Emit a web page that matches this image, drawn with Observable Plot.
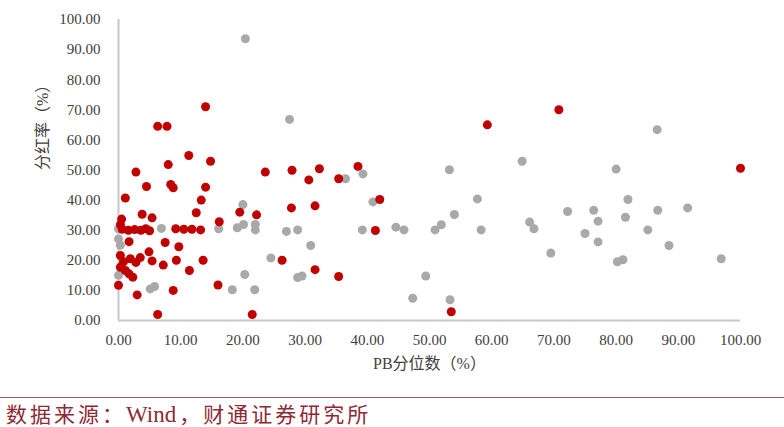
<!DOCTYPE html>
<html>
<head>
<meta charset="utf-8">
<script src="https://cdn.jsdelivr.net/npm/d3@7"></script>
<script src="https://cdn.jsdelivr.net/npm/@observablehq/plot@0.6"></script>
<style>
  html, body { margin: 0; padding: 0; background: #fff; }
  #chart { width: 784px; }
  #source {
    margin-top: 9px;
    border-top: 1.5px solid #b5555a;
    padding: 5px 0 0 6px;
    font-family: "Liberation Serif", "Noto Sans CJK SC", serif;
    font-size: 21px;
    letter-spacing: 3px;
    color: #8e2a35;
    line-height: 24px;
    white-space: nowrap;
  }
  #source .latin { letter-spacing: 0; font-size: 23px; margin-right: 3px; }
</style>
</head>
<body>
<div id="chart"></div>
<div id="source">数据来源：<span class="latin">Wind</span>，财通证券研究所</div>
<script>
const xTicks = [0, 10, 20, 30, 40, 50, 60, 70, 80, 90, 100];
const yTicks = [0, 10, 20, 30, 40, 50, 60, 70, 80, 90, 100];
const xTitle = "PB分位数（%）";
const yTitle = "分红率（%）";

// gray series (PB percentile, dividend payout)
const grayX = [20.4, 27.5, 86.6, 64.9, 53.2, 80.0, 39.3, 36.5, 57.7, 81.9, 40.9, 20.0, 54.0, 72.2, 76.4, 86.7, 91.5, 81.5, 77.1, 66.1, 66.8, 51.9, 50.9, 58.3, 75.0, 85.1, 44.6, 45.9, 39.2, 22.0, 22.0, 27.0, 28.8, 20.1, 19.1, 16.1, 6.9, 0.0, 0.0, 0.3, 0.0, 5.1, 5.8, 18.3, 21.9, 20.3, 30.9, 24.5, 28.8, 29.5, 49.4, 47.3, 53.3, 77.1, 88.5, 69.5, 80.2, 81.1, 96.9];
const grayY = [93.6, 66.8, 63.4, 52.9, 50.1, 50.3, 48.7, 47.1, 40.4, 40.2, 39.4, 38.5, 35.2, 36.2, 36.6, 36.6, 37.4, 34.3, 33.0, 32.7, 30.5, 31.8, 30.1, 30.1, 28.9, 30.1, 31.0, 30.1, 30.1, 31.9, 30.1, 29.6, 30.1, 31.9, 30.8, 30.5, 30.6, 30.5, 27.1, 25.0, 15.0, 10.5, 11.3, 10.2, 10.2, 15.3, 24.9, 20.8, 14.3, 14.8, 14.8, 7.4, 6.9, 26.1, 24.9, 22.4, 19.5, 20.2, 20.5];

// red series
const redX = [14.0, 6.3, 7.8, 11.3, 14.8, 2.8, 8.0, 8.4, 8.8, 4.5, 14.0, 13.3, 1.1, 12.5, 3.8, 5.4, 0.5, 19.5, 22.2, 16.2, 0.3, 0.6, 1.6, 2.6, 3.6, 4.4, 5.0, 9.2, 10.5, 11.8, 13.2, 1.7, 7.5, 9.7, 4.9, 0.3, 1.9, 3.5, 0.8, 5.4, 7.2, 9.3, 13.6, 0.3, 1.1, 1.7, 2.3, 11.4, 0.0, 3.0, 8.8, 16.0, 6.3, 21.5, 23.6, 27.9, 32.3, 30.6, 35.4, 38.5, 42.0, 27.8, 31.6, 41.3, 26.3, 31.6, 35.4, 53.5, 59.3, 70.8, 100.0, 2.8];
const redY = [71.0, 64.5, 64.5, 54.8, 52.9, 49.3, 51.8, 45.2, 44.1, 44.5, 44.3, 40.0, 40.7, 35.8, 35.3, 34.1, 33.7, 36.0, 35.1, 32.8, 31.8, 30.3, 30.0, 30.2, 30.0, 30.5, 29.8, 30.5, 30.3, 30.3, 30.1, 26.2, 25.9, 24.5, 22.8, 21.6, 20.5, 20.9, 19.5, 19.8, 18.4, 20.0, 20.0, 17.7, 16.6, 15.5, 14.4, 16.6, 11.7, 8.5, 10.0, 11.8, 2.0, 2.0, 49.3, 49.9, 50.4, 46.7, 47.1, 51.2, 40.2, 37.4, 38.1, 29.9, 20.0, 16.9, 14.6, 2.9, 65.0, 70.0, 50.6, 19.3];

const gray = grayX.map((x, i) => ({x, y: grayY[i]}));
const red = redX.map((x, i) => ({x, y: redY[i]}));
const fmt = d3.format(".2f");

const chart = Plot.plot({
  width: 784,
  height: 388,
  marginLeft: 118,
  marginRight: 44,
  marginTop: 19,
  marginBottom: 68,
  style: {fontFamily: "'Liberation Serif', 'Noto Sans CJK SC', serif", fontSize: "15px", color: "#404040", background: "#fff"},
  x: {domain: [0, 100], ticks: xTicks, tickFormat: fmt, tickSize: 0, tickPadding: 14, label: null},
  y: {domain: [0, 100], ticks: yTicks, tickFormat: fmt, tickSize: 0, tickPadding: 18, label: null},
  marks: [
    Plot.ruleY([0], {x1: 0, x2: 100, stroke: "#c8c8c8", strokeWidth: 2}),
    Plot.ruleX([0], {y1: 0, y2: 100, stroke: "#c8c8c8", strokeWidth: 2}),
    Plot.dot(gray, {x: "x", y: "y", r: 4.5, fill: "#a9a9a9", stroke: "none"}),
    Plot.dot(red, {x: "x", y: "y", r: 4.5, fill: "#c00000", stroke: "none"}),
    Plot.text([xTitle], {frameAnchor: "bottom", dy: 48, fontSize: 16, fill: "#404040", fontFamily: "'Liberation Serif', 'Noto Sans CJK SC', serif"}),
    Plot.text([yTitle], {frameAnchor: "left", dx: -76, rotate: -90, fontSize: 16, fill: "#404040", fontFamily: "'Liberation Serif', 'Noto Sans CJK SC', serif"})
  ]
});
document.getElementById("chart").appendChild(chart);
</script>
</body>
</html>
